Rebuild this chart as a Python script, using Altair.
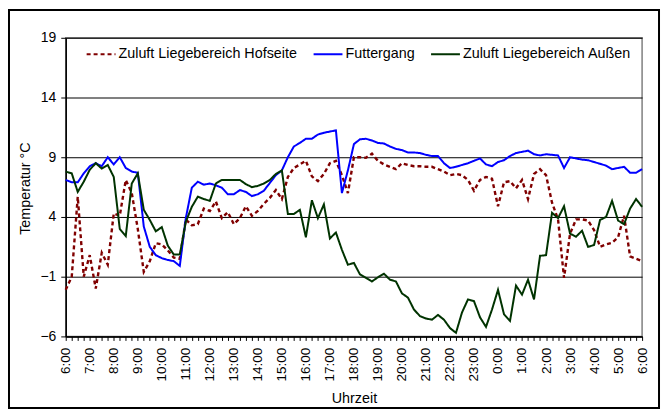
import json
import altair as alt
import pandas as pd

# Hour labels on the x axis (one every 4 quarter-hour steps)
hour_labels = ["6:00", "7:00", "8:00", "9:00", "10:00", "11:00", "12:00", "13:00",
               "14:00", "15:00", "16:00", "17:00", "18:00", "19:00", "20:00", "21:00",
               "22:00", "23:00", "0:00", "1:00", "2:00", "3:00", "4:00", "5:00", "6:00"]

# 15-minute readings from 6:00 to 6:00 (97 values each)
hofseite = [-2.1, -1.0, 5.7, -1.0, 0.8, -2.0, 1.0, 0.0, 4.3, 4.1,
            7.1, 6.0, 3.0, -0.6, 0.3, 1.8, 1.7, 1.2, 0.6, 0.5,
            3.8, 3.3, 3.4, 4.7, 4.5, 5.3, 3.9, 4.4, 3.4, 3.9,
            4.9, 4.1, 4.5, 5.1, 5.6, 6.25, 5.5, 7.35, 8.1, 8.4,
            8.7, 7.4, 7.0, 7.6, 8.5, 8.7, 7.5, 6.0, 9.0, 9.0,
            8.95, 9.3, 8.7, 8.4, 8.2, 8.0, 8.5, 8.35, 8.25, 8.25,
            8.2, 8.2, 8.0, 7.8, 7.5, 7.6, 7.5, 7.1, 6.2, 7.1,
            7.35, 7.2, 4.9, 6.9, 7.0, 6.4, 7.1, 5.5, 7.6, 8.0,
            7.5, 5.2, 3.8, -1.1, 2.6, 3.8, 3.8, 3.7, 2.9, 1.5,
            1.7, 1.85, 2.3, 4.1, 0.7, 0.5, 0.3]

futtergang = [7.1, 6.9, 6.9, 7.65, 8.25, 8.5, 8.25, 9.0, 8.4, 9.0,
              8.1, 7.8, 7.7, 3.2, 1.5, 0.8, 0.55, 0.4, 0.3, -0.1,
              3.9, 6.45, 6.95, 6.7, 6.8, 6.65, 6.45, 5.9, 5.9, 6.25,
              6.1, 5.75, 5.9, 6.2, 6.85, 7.5, 7.9, 9.0, 9.9, 10.2,
              10.55, 10.55, 10.9, 11.05, 11.15, 11.25, 6.0, 7.9, 10.1, 10.5,
              10.55, 10.4, 10.2, 10.15, 9.9, 9.7, 9.6, 9.4, 9.4, 9.35,
              9.2, 9.1, 9.1, 8.5, 8.1, 8.2, 8.35, 8.5, 8.7, 8.9,
              8.4, 8.25, 8.6, 8.75, 9.1, 9.35, 9.45, 9.55, 9.25, 9.15,
              9.25, 9.2, 9.15, 8.1, 9.0, 8.9, 8.8, 8.75, 8.6, 8.45,
              8.3, 8.0, 8.1, 8.2, 7.7, 7.7, 8.0]

aussen = [7.8, 7.65, 6.1, 6.95, 7.95, 8.5, 8.05, 8.35, 7.35, 3.0,
          2.4, 6.8, 7.65, 4.6, 3.75, 2.8, 3.15, 1.6, 0.85, 0.85,
          3.6, 4.85, 5.7, 5.5, 5.35, 6.8, 7.1, 7.1, 7.1, 7.1,
          6.75, 6.5, 6.6, 6.8, 7.1, 7.6, 7.9, 4.25, 4.25, 4.6,
          2.3, 5.4, 3.9, 5.05, 2.2, 2.7, 1.25, 0.0, 0.15, -0.8,
          -1.1, -1.4, -1.05, -0.75, -1.25, -1.4, -2.4, -2.75, -3.75, -4.3,
          -4.5, -4.6, -4.2, -4.6, -5.3, -5.7, -4.0, -2.9, -3.05, -4.4,
          -5.2, -3.75, -2.1, -4.15, -4.7, -1.75, -2.5, -1.25, -2.9, 0.75,
          0.8, 4.35, 3.9, 4.9, 2.6, 2.35, 2.85, 1.5, 1.65, 3.75,
          4.0, 5.35, 3.7, 3.4, 4.7, 5.5, 4.85]

series_names = ["Zuluft Liegebereich Hofseite", "Futtergang", "Zuluft Liegebereich Außen"]
series_values = [hofseite, futtergang, aussen]
series_colors = ["#800000", "#0000FF", "#003300"]
series_dashes = [[4, 3], [1, 0], [1, 0]]
y_ticks = [-6, -1, 4, 9, 14, 19]

rows = []
for name, vals in zip(series_names, series_values):
    for i, v in enumerate(vals):
        rows.append({"idx": i, "value": v, "series": name})
df = pd.DataFrame(rows)

FONT = "Liberation Sans"
n_steps = len(hofseite) - 1

label_expr = ("datum.value % 4 == 0 ? " + json.dumps(hour_labels) +
              "[datum.value / 4] : ''")

x_enc = alt.X(
    "idx:Q",
    scale=alt.Scale(domain=[0, n_steps], nice=False, zero=False),
    axis=alt.Axis(
        values=list(range(n_steps + 1)),
        labelExpr=label_expr,
        labelAngle=270, labelAlign="right", labelBaseline="middle",
        labelPadding=7, tickSize=4, labelFlush=False, labelOverlap=False,
        grid=False, title="Uhrzeit", titleY=66, titleBaseline="alphabetic",
        labelFontSize=13.5,
    ),
)
y_enc = alt.Y(
    "value:Q",
    scale=alt.Scale(domain=[-6, 19], nice=False, zero=False),
    axis=alt.Axis(
        values=y_ticks, grid=True, gridColor="black", gridWidth=1,
        tickSize=5, labelPadding=5, title="Temperatur °C",
        titleX=-36, titleY=151, titleAngle=270, titleAlign="center",
        titleBaseline="alphabetic", labelFontSize=14,
    ),
)

legend = alt.Legend(
    orient="none", legendX=20, legendY=1, direction="horizontal", title=None,
    symbolType="stroke", symbolSize=841, symbolStrokeWidth=2,
    labelFont=FONT, labelFontSize=14.4, labelColor="black", labelLimit=0,
    columnPadding=12, labelOffset=2, padding=0,
)
color_enc = alt.Color("series:N", sort=series_names,
                      scale=alt.Scale(domain=series_names, range=series_colors),
                      legend=legend)
dash_enc = alt.StrokeDash("series:N", sort=series_names,
                          scale=alt.Scale(domain=series_names, range=series_dashes),
                          legend=legend)

layers = []
for name, w in zip(series_names, [2.4, 2, 2]):
    layers.append(
        alt.Chart(df).transform_filter(alt.datum.series == name)
        .mark_line(strokeWidth=w)
        .encode(x=x_enc, y=y_enc, color=color_enc, strokeDash=dash_enc)
    )

frame = alt.Chart(alt.Data(values=[{"f": 1}])).mark_rect(
    fill="transparent", stroke="black", strokeWidth=2
).encode(
    x=alt.value(-57), x2=alt.value(596), y=alt.value(-28), y2=alt.value(372)
)

chart = alt.layer(*layers, frame).properties(
    width=579, height=300,
    autosize=alt.AutoSizeParams(type="none"),
    padding={"left": 58, "top": 29, "right": 20, "bottom": 74},
).configure_axis(
    labelFont=FONT, titleFont=FONT, titleFontSize=14.4, titleFontWeight="normal",
    labelColor="black", titleColor="black", domainColor="black", tickColor="black",
    domainWidth=1.5,
).configure_view(stroke="#808080", strokeWidth=1.5)

chart.save("out.html", embed_options={"renderer": "svg", "actions": False})
